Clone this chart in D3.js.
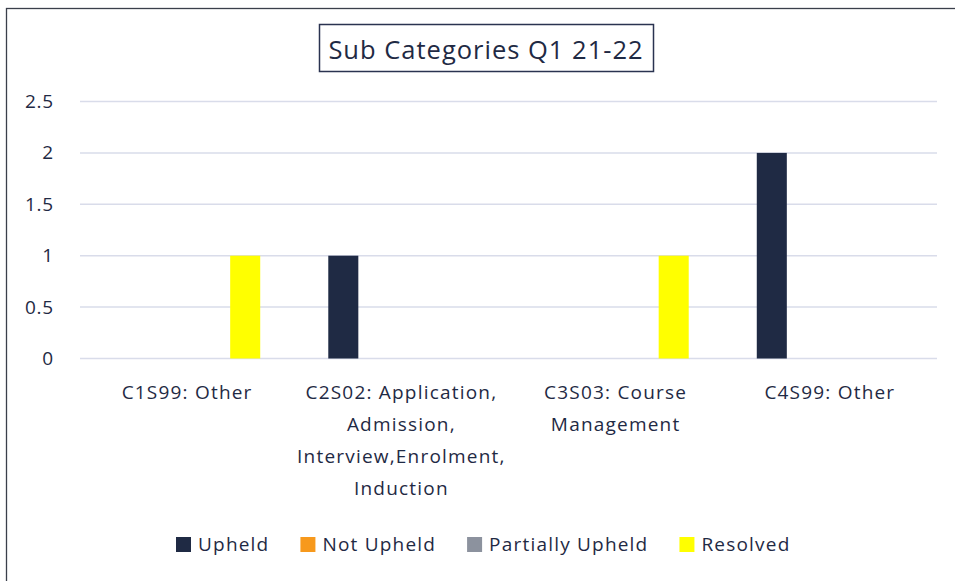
<!DOCTYPE html>
<html><head><meta charset="utf-8">
<script src="https://cdn.jsdelivr.net/npm/d3@7"></script>
<style>body{margin:0;background:#fff;} svg{display:block;font-family:"Open Sans",sans-serif;}</style>
</head><body><div id="chart"></div>
<script>
const title = "Sub Categories Q1 21-22";
const categories = ["C1S99: Other", "C2S02: Application, Admission, Interview,Enrolment, Induction", "C3S03: Course Management", "C4S99: Other"];
const seriesNames = ["Upheld", "Not Upheld", "Partially Upheld", "Resolved"];
const upheld = [0, 1, 0, 2];
const notUpheld = [0, 0, 0, 0];
const partiallyUpheld = [0, 0, 0, 0];
const resolved = [1, 0, 1, 0];
const yTicks = [0, 0.5, 1, 1.5, 2, 2.5];
const colors = ["#1f2a44", "#f7991c", "#8c929e", "#ffff00"];

const seriesValues = [upheld, notUpheld, partiallyUpheld, resolved];
const W = 955, H = 581;
const textColor = "#1f2a44";
const LS = "1.2px";
const svg = d3.select("#chart").append("svg").attr("width", W).attr("height", H);

// outer frame
svg.append("rect").attr("x", 6.5).attr("y", 8.5).attr("width", W + 10).attr("height", H + 10)
  .attr("fill", "none").attr("stroke", "#3a3f4b").attr("stroke-width", 1.3);

const plot = {left: 80, right: 937, top: 101.5, bottom: 358.5};
const x0 = d3.scaleBand().domain(categories).range([plot.left, plot.right]).padding(0);
const x1 = d3.scaleBand().domain(seriesNames).range([0, x0.bandwidth()]).paddingInner(0.224).paddingOuter(0.879);
const y = d3.scaleLinear().domain([0, 2.5]).range([plot.bottom, plot.top]);

// gridlines
svg.append("g").selectAll("line").data(yTicks).join("line")
  .attr("x1", plot.left).attr("x2", plot.right)
  .attr("y1", d => y(d)).attr("y2", d => y(d))
  .attr("stroke", "#d9dcea").attr("stroke-width", 1.5);

// y axis labels
const yAxis = d3.axisLeft(y).tickValues(yTicks).tickSize(0).tickPadding(0).tickFormat(d => String(d));
const ya = svg.append("g").attr("transform", `translate(54,0)`).call(yAxis);
ya.select(".domain").remove();
ya.selectAll("text").attr("font-size", 19).attr("fill", textColor).attr("font-family", '"Open Sans",sans-serif')
  .style("letter-spacing", "0.8px");

// bars
const rows = [];
categories.forEach((c, i) => seriesNames.forEach((s, j) => rows.push({c, s, v: seriesValues[j][i], color: colors[j]})));
svg.append("g").selectAll("rect").data(rows.filter(d => d.v > 0)).join("rect")
  .attr("x", d => x0(d.c) + x1(d.s))
  .attr("width", x1.bandwidth())
  .attr("y", d => y(d.v))
  .attr("height", d => y(0) - y(d.v))
  .attr("fill", d => d.color);

// x labels with wrapping
const xl = svg.append("g");
categories.forEach(c => {
  const cx = x0(c) + x0.bandwidth() / 2;
  const t = xl.append("text").attr("x", cx).attr("y", 399).attr("text-anchor", "middle")
    .attr("font-size", 19).attr("fill", textColor).style("letter-spacing", LS);
  const words = c.split(" ");
  const lines = [];
  let line = [];
  const tmp = t.append("tspan");
  words.forEach(w => {
    const trial = line.concat([w]).join(" ");
    tmp.text(trial);
    if (tmp.node().getComputedTextLength() > x0.bandwidth() && line.length) {
      lines.push(line.join(" "));
      line = [w];
    } else line.push(w);
  });
  lines.push(line.join(" "));
  tmp.remove();
  lines.forEach((l, i) => t.append("tspan").attr("x", cx).attr("y", 399 + i * 32).text(l));
});

// title
const tg = svg.append("g");
tg.append("rect").attr("x", 319.5).attr("y", 24.5).attr("width", 334).attr("height", 47)
  .attr("fill", "#fff").attr("stroke", "#2a3350").attr("stroke-width", 1.5);
tg.append("text").attr("x", 486).attr("y", 58.5).attr("text-anchor", "middle")
  .attr("font-size", 25.5).attr("fill", textColor).style("letter-spacing", "1px").text(title);

// legend
const lg = svg.append("g");
let lx = 176;
seriesNames.forEach((s, j) => {
  lg.append("rect").attr("x", lx).attr("y", 537).attr("width", 15).attr("height", 15).attr("fill", colors[j]);
  const t = lg.append("text").attr("x", lx + 22).attr("y", 550.5).attr("font-size", 19).attr("fill", textColor)
    .style("letter-spacing", LS).text(s);
  lx = lx + 22 + t.node().getComputedTextLength() + 31;
});
</script></body></html>
